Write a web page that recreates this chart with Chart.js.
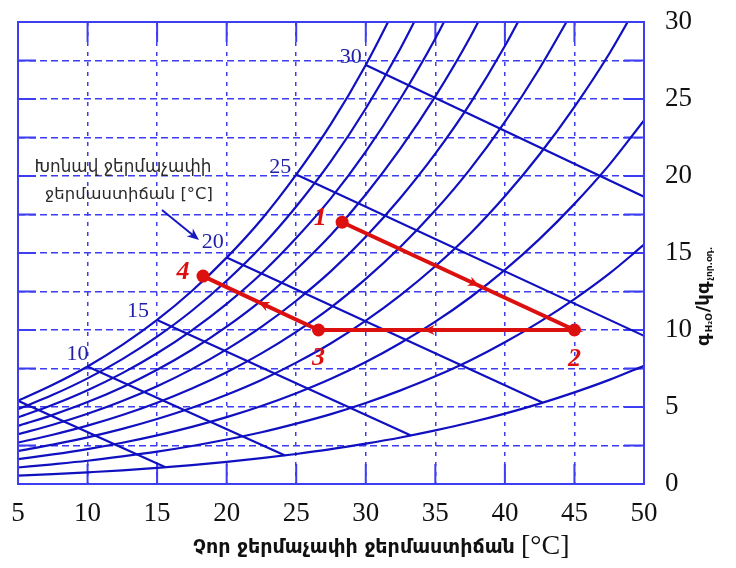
<!DOCTYPE html>
<html>
<head>
<meta charset="utf-8">
<script src="https://cdn.jsdelivr.net/npm/chart.js@4/dist/chart.umd.min.js"></script>
<style>
html,body{margin:0;padding:0;background:#fff;}
#wrap{width:736px;height:568px;position:relative;}
canvas{display:block;}
</style>
</head>
<body>
<div id="wrap"><canvas id="c" width="736" height="568"></canvas></div>
<script>
// ---- Data ----
const temps = [5,7.5,10,12.5,15,17.5,20,22.5,25,27.5,30,32.5,35,37.5,40,42.5,45,47.5,50];
// humidity ratio [g/kg] along relative-humidity curves
const rh100 = [5.40,6.44,7.63,9.03,10.65,12.53,14.70,17.18,20.09,23.38,27.21,31.61,null,null,null,null,null,null,null];
const rh90  = [4.86,5.79,6.86,8.11,9.57,11.25,13.20,15.42,18.02,20.96,24.38,28.30,32.74,null,null,null,null,null,null];
const rh80  = [4.32,5.14,6.09,7.20,8.49,9.98,11.70,13.67,15.97,18.56,21.58,25.03,28.93,33.38,null,null,null,null,null];
const rh70  = [3.77,4.49,5.32,6.29,7.42,8.72,10.22,11.93,13.93,16.18,18.80,21.79,25.17,29.01,33.44,null,null,null,null];
const rh60  = [3.23,3.85,4.56,5.39,6.35,7.46,8.74,10.20,11.90,13.82,16.05,18.59,21.45,24.70,28.44,32.68,null,null,null];
const rh50  = [2.69,3.20,3.79,4.48,5.28,6.20,7.26,8.48,9.88,11.47,13.32,15.41,17.77,20.45,23.52,27.00,30.91,null,null];
const rh40  = [2.15,2.56,3.03,3.58,4.22,4.95,5.80,6.76,7.88,9.14,10.61,12.27,14.14,16.25,18.68,21.41,24.49,27.94,31.89];
const rh30  = [1.61,1.92,2.27,2.68,3.16,3.71,4.34,5.06,5.89,6.83,7.92,9.16,10.54,12.11,13.90,15.92,18.19,20.72,23.61];
const rh20  = [1.07,1.28,1.51,1.79,2.10,2.47,2.89,3.36,3.92,4.54,5.26,6.08,6.99,8.02,9.20,10.53,12.01,13.66,15.54];
const rh10  = [0.54,0.64,0.76,0.89,1.05,1.23,1.44,1.68,1.95,2.26,2.62,3.02,3.48,3.99,4.57,5.22,5.95,6.76,7.68];
const rhCurves = [rh100,rh90,rh80,rh70,rh60,rh50,rh40,rh30,rh20,rh10];

// wet-bulb lines: start (on saturation) and end
const wbTemps   = [5, 10, 15, 20, 25, 30];
const wbStartW  = [5.40, 7.63, 10.65, 14.70, 20.09, 27.21];
const wbEndT    = [15.6, 24.2, 33.25, 42.7, 50, 50];
const wbEndW    = [1.08, 1.85, 3.15, 5.29, 9.62, 18.65];
const wbLabels  = ['', '10', '15', '20', '25', '30'];

// process 1-2-3-4
const procLabels = ['1','2','3','4'];
const procT = [28.3, 45, 26.6, 18.3];
const procW = [17.0, 10.0, 10.0, 13.5];

const xTicks = [5,10,15,20,25,30,35,40,45,50];
const yTicks = [0,5,10,15,20,25,30];

// ---- Styles ----
const BLUE = '#1010c0';
const GRID = '#3d3df2';
const RED = '#dd1010';

const datasets = [];
datasets.push({
  label:'process', order:0,
  data: procT.map((t,i)=>({x:t,y:procW[i]})),
  showLine:true, borderColor:RED, backgroundColor:RED, borderWidth:4,
  pointRadius:6.5, pointBackgroundColor:RED, pointBorderWidth:0, tension:0
});
rhCurves.forEach((arr,k)=>{
  datasets.push({
    label:'rh'+(100-10*k), order:1,
    data: temps.map((t,i)=>({x:t,y:arr[i]})),
    showLine:true, borderColor:BLUE, borderWidth:2.2, pointRadius:0,
    cubicInterpolationMode:'monotone', spanGaps:false
  });
});
wbTemps.forEach((t,k)=>{
  datasets.push({
    label:'wb'+t, order:1,
    data:[{x:t,y:wbStartW[k]},{x:wbEndT[k],y:wbEndW[k]}],
    showLine:true, borderColor:BLUE, borderWidth:2.2, pointRadius:0, tension:0
  });
});

function fitFont(ctx, text, target, tmpl){
  ctx.font = tmpl.replace('SZ','20px');
  const w = ctx.measureText(text).width;
  const sz = 20*target/w;
  return tmpl.replace('SZ', sz.toFixed(2)+'px');
}

function arrowHead(ctx, x1,y1,x2,y2, len, half, color){
  const a = Math.atan2(y2-y1, x2-x1);
  ctx.save();
  ctx.fillStyle=color;
  ctx.translate(x2,y2); ctx.rotate(a);
  ctx.beginPath(); ctx.moveTo(0,0); ctx.lineTo(-len,-half); ctx.lineTo(-len*0.7,0); ctx.lineTo(-len,half); ctx.closePath();
  ctx.fill();
  ctx.restore();
}

const decor = {
  id:'decor',
  beforeDatasetsDraw(chart){
    const {ctx, chartArea:ca, scales:{x,y}} = chart;
    ctx.save();
    ctx.strokeStyle = GRID; ctx.lineWidth = 2; ctx.setLineDash([]);
    ctx.beginPath();
    xTicks.forEach(v=>{
      const px = x.getPixelForValue(v);
      ctx.moveTo(px, ca.bottom); ctx.lineTo(px, ca.bottom-20);
      ctx.moveTo(px, ca.top); ctx.lineTo(px, ca.top+20);
    });
    for(let v=0; v<=30; v+=2.5){
      const py = y.getPixelForValue(v);
      ctx.moveTo(ca.left, py); ctx.lineTo(ca.left+18, py);
      ctx.moveTo(ca.right, py); ctx.lineTo(ca.right-20, py);
    }
    ctx.stroke();
    ctx.restore();
  },
  afterDatasetsDraw(chart){
    const {ctx, chartArea:ca, scales:{x,y}} = chart;
    ctx.save();
    ctx.strokeStyle = GRID; ctx.lineWidth = 2; ctx.setLineDash([]);
    ctx.strokeRect(ca.left, ca.top, ca.right-ca.left, ca.bottom-ca.top);

    const offs = [[0,0],[-10,-12],[-19,-9],[-14,-15],[-16,-7],[-15,-8]];
    ctx.fillStyle = '#2020a8';
    ctx.font = '22px "Liberation Serif"';
    ctx.textAlign='center'; ctx.textBaseline='middle';
    wbTemps.forEach((t,k)=>{
      if(!wbLabels[k]) return;
      const px = x.getPixelForValue(t)+offs[k][0];
      const py = y.getPixelForValue(wbStartW[k])+offs[k][1];
      ctx.fillText(wbLabels[k], px, py);
    });

    const P = procT.map((t,i)=>[x.getPixelForValue(t), y.getPixelForValue(procW[i])]);
    const segs = [[0,1,0.59],[1,2,0.59],[2,3,0.52]];
    segs.forEach(([a,b,f])=>{
      const x1=P[a][0], y1=P[a][1], x2=P[b][0], y2=P[b][1];
      const mx = x1+(x2-x1)*f, my = y1+(y2-y1)*f;
      arrowHead(ctx, x1,y1,mx,my, 11, 5, RED);
    });
    const loffs = [[-22,-4],[0,29],[0,28],[-20,-4]];
    ctx.fillStyle = RED;
    ctx.font = 'italic bold 26px "Liberation Serif"';
    procLabels.forEach((l,i)=>{
      ctx.fillText(l, P[i][0]+loffs[i][0], P[i][1]+loffs[i][1]);
    });

    ctx.fillStyle = '#2a2a2a';
    const l1 = 'Խոնավ ջերմաչափի', l2 = 'ջերմաստիճան [°C]';
    ctx.font = fitFont(ctx, l1, 177, 'SZ "DejaVu Sans"');
    ctx.fillText(l1, 123, 168);
    ctx.font = fitFont(ctx, l2, 168, 'SZ "DejaVu Sans"');
    ctx.fillText(l2, 129, 195);
    ctx.strokeStyle = '#1818c0'; ctx.lineWidth=2;
    ctx.beginPath(); ctx.moveTo(162,210); ctx.lineTo(194,236); ctx.stroke();
    arrowHead(ctx,162,210,199,240,12,5,'#1818c0');

    const xt = 'Չոր ջերմաչափի ջերմաստիճան';
    ctx.fillStyle = '#111';
    ctx.textAlign='left';
    ctx.font = fitFont(ctx, xt, 322, 'bold SZ "DejaVu Sans"');
    ctx.fillText(xt, 193, 548);
    ctx.font = '28px "Liberation Serif"';
    ctx.fillText('[°C]', 521, 547);

    ctx.translate(703, 346);
    ctx.rotate(-Math.PI/2);
    ctx.textAlign='left'; ctx.textBaseline='alphabetic';
    let cx = 0;
    const parts = [['գ','bold 18px "DejaVu Sans"',0],['H₂O','bold 9px "DejaVu Sans"',3],['/կգ','bold 18px "DejaVu Sans"',0],['չոր.օդ.','bold 9px "DejaVu Sans"',3]];
    parts.forEach(([t,f,dy])=>{
      ctx.font=f; ctx.fillText(t, cx, 6+dy); cx += ctx.measureText(t).width+1;
    });
    ctx.restore();
  }
};

new Chart(document.getElementById('c'), {
  type:'scatter',
  data:{datasets},
  options:{
    responsive:false, animation:false, devicePixelRatio:1,
    layout:{padding:{left:18, top:22, right:0, bottom:0}},
    plugins:{legend:{display:false}, tooltip:{enabled:false}},
    scales:{
      x:{
        type:'linear', min:5, max:50,
        afterBuildTicks(s){ s.ticks = xTicks.map(v=>({value:v})); },
        afterFit(s){ s.height = 84; s.paddingLeft = 0; s.paddingRight = 0; },
        grid:{color:GRID, lineWidth:1.5, drawTicks:false},
        border:{display:false, dash:[4,6]},
        ticks:{font:{family:'"Liberation Serif"', size:27}, color:'#111', padding:14, maxRotation:0}
      },
      y:{
        type:'linear', position:'right', min:0, max:30,
        afterBuildTicks(s){ const t=[]; for(let v=0;v<=30;v+=2.5) t.push({value:v}); s.ticks=t; },
        afterFit(s){ s.width = 92; s.paddingTop = 0; s.paddingBottom = 0; },
        grid:{color:GRID, lineWidth:1.5, drawTicks:false},
        border:{display:false, dash:[7,4]},
        ticks:{font:{family:'"Liberation Serif"', size:27}, color:'#111', padding:21,
          callback:(v)=> yTicks.includes(v) ? String(v) : ''}
      }
    }
  },
  plugins:[decor]
});
</script>
</body>
</html>
